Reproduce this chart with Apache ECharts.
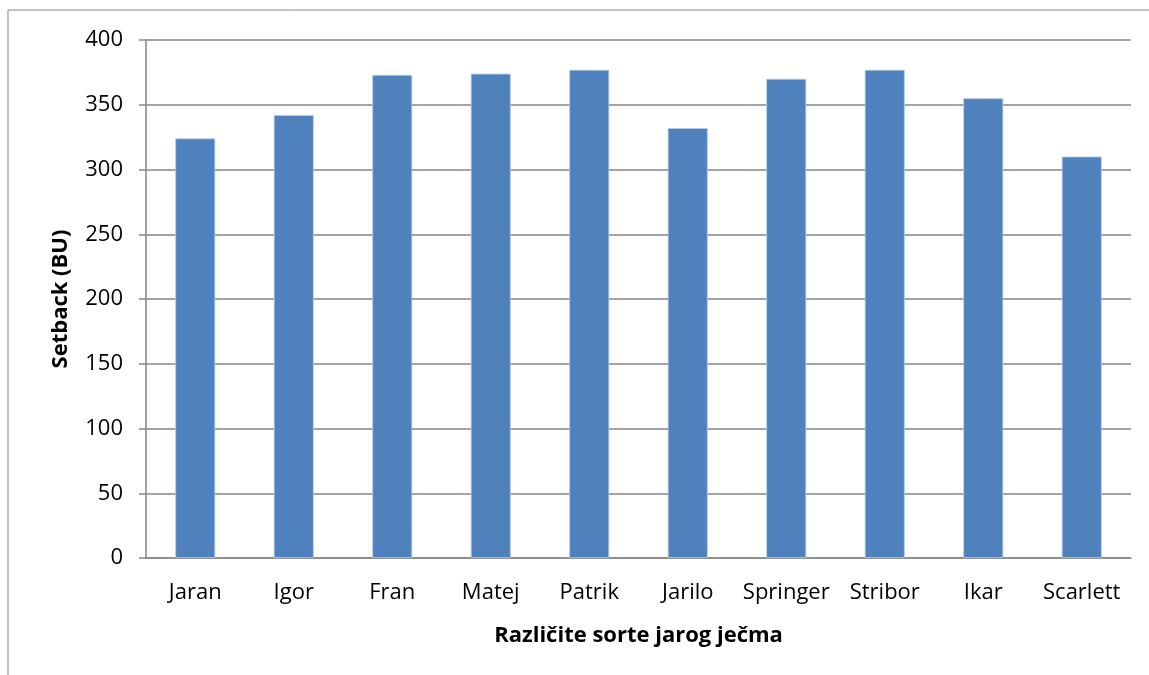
<!DOCTYPE html>
<html>
<head>
<meta charset="utf-8">
<script src="https://cdn.jsdelivr.net/npm/echarts@6/dist/echarts.min.js"></script>
<style>
html,body{margin:0;padding:0;background:#fff;}
#chart{width:1149px;height:675px;}
</style>
</head>
<body>
<div id="chart"></div>
<script>
const categories = ['Jaran','Igor','Fran','Matej','Patrik','Jarilo','Springer','Stribor','Ikar','Scarlett'];
const setbackValues = [324, 342, 373, 374, 377, 332, 370, 377, 355, 310];
const yTicks = { min: 0, max: 400, interval: 50 };
const yTitle = 'Setback (BU)';
const xTitle = 'Različite sorte jarog ječma';

const font = '"Open Sans", sans-serif';
const chart = echarts.init(document.getElementById('chart'), null, {renderer:'canvas'});
chart.setOption({
  animation: false,
  backgroundColor: '#fff',
  graphic: [{
    type: 'rect', shape: {x: 8, y: 10, width: 1200, height: 720},
    style: {fill: 'none', stroke: '#878787', lineWidth: 1}, silent: true, z: -1
  }],
  grid: {left: 146, right: 18, top: 40, bottom: 117, containLabel: false},
  xAxis: {
    type: 'category', data: categories,
    name: xTitle, nameLocation: 'middle', nameGap: 67,
    nameTextStyle: {fontFamily: font, fontWeight: 'bold', fontSize: 22, color: '#000'},
    axisLine: {lineStyle: {color: '#868686', width: 1.5}},
    axisTick: {show: false},
    axisLabel: {fontFamily: font, fontSize: 22, color: '#000', margin: 24, interval: 0}
  },
  yAxis: {
    type: 'value', min: yTicks.min, max: yTicks.max, interval: yTicks.interval,
    name: yTitle, nameLocation: 'middle', nameGap: 74, nameRotate: 90,
    nameTextStyle: {fontFamily: font, fontWeight: 'bold', fontSize: 22, color: '#000'},
    axisLine: {show: true, lineStyle: {color: '#868686', width: 1.5}},
    axisTick: {show: true, length: 7, lineStyle: {color: '#868686', width: 1.5}},
    axisLabel: {fontFamily: font, fontSize: 22, color: '#000', margin: 23},
    splitLine: {lineStyle: {color: '#868686', width: 1.5}}
  },
  series: [{
    type: 'bar', data: setbackValues, barWidth: 40,
    itemStyle: {color: '#4F81BD', borderColor: '#B9CDE5', borderWidth: 0.8}
  }]
});
</script>
</body>
</html>
